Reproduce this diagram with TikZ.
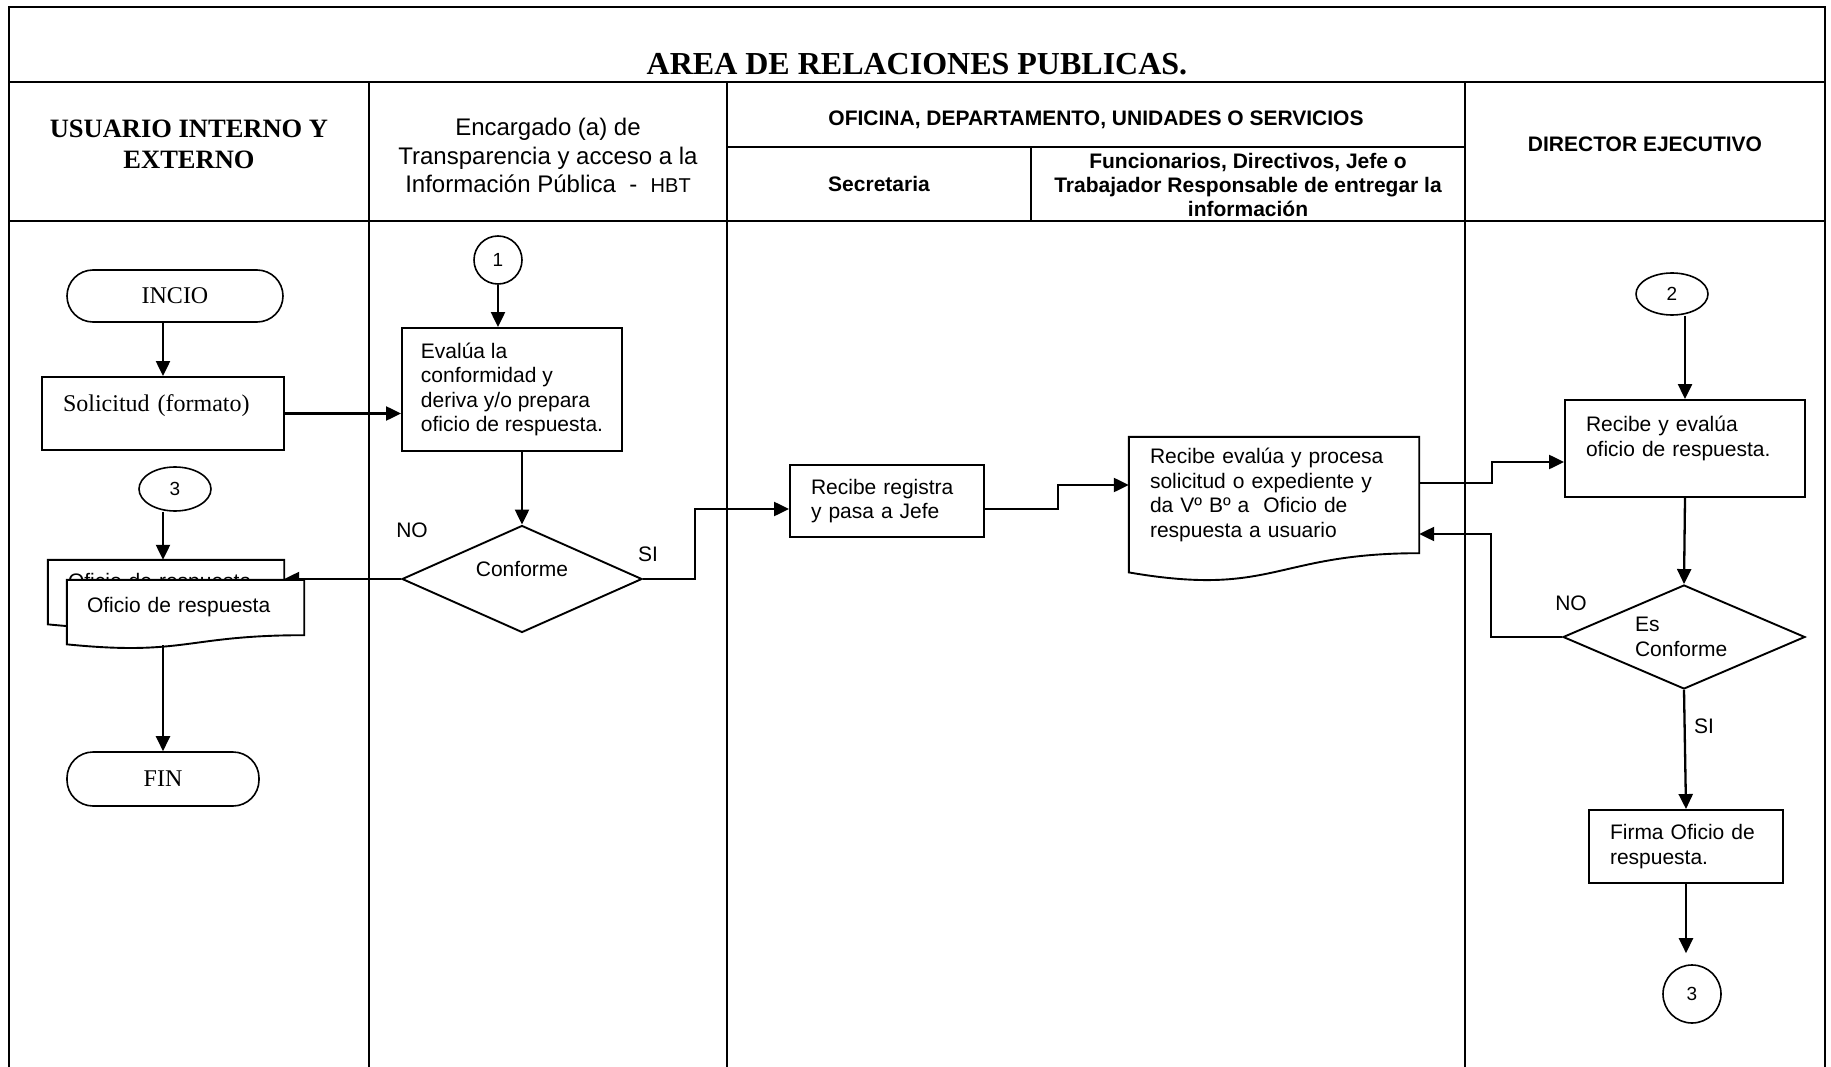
\documentclass[tikz,border=0pt]{standalone}
\usepackage{fontspec}
\setmainfont{Liberation Sans}
\newfontfamily\romanfont{Liberation Serif}
\usetikzlibrary{positioning,arrows.meta,shapes.geometric,calc}

\begin{document}
\begin{tikzpicture}[x=1pt, y=-1pt,
  lane/.style={line width=2.7pt},
  proc/.style={draw, line width=1.9pt, fill=white, align=left, inner sep=0pt,
               font=\fontsize{21}{24.5}\selectfont},
  term/.style={draw, line width=1.6pt, rounded corners=26pt, inner sep=0pt,
               font=\romanfont\fontsize{24}{28}\selectfont},
  conn/.style={draw, ellipse, line width=1.6pt, inner sep=0pt,
               font=\fontsize{19}{22}\selectfont},
  dec/.style={draw, diamond, aspect=2.3, line width=1.9pt, inner sep=0pt, align=left,
              font=\fontsize{21}{24.5}\selectfont},
  docu/.style={fill=white, align=left, inner sep=0pt,
               font=\fontsize{21}{24.5}\selectfont},
  wave/.style={line width=1.9pt},
  head/.style={align=center, font=\bfseries\fontsize{21}{24}\selectfont},
  lbl/.style={font=\fontsize{21}{24}\selectfont},
  arr/.style={-{Triangle[length=15pt,width=14pt]}, line width=2.3pt}
]
\useasboundingbox (0,0) rectangle (1831,1067);

\draw[lane] (9,1067) -- (9,7) -- (1825,7) -- (1825,1067);
\draw[lane] (9,82) -- (1825,82);
\draw[lane] (9,221) -- (1825,221);
\draw[lane] (727,147) -- (1465,147);
\draw[lane] (1031,147) -- (1031,221);
\draw[lane] (369,82) -- (369,1067);
\draw[lane] (727,82) -- (727,1067);
\draw[lane] (1465,82) -- (1465,1067);

\node[font=\romanfont\bfseries\fontsize{32}{36}\selectfont] (title) at (917,64)
  {AREA DE RELACIONES PUBLICAS.};
\node[align=center, font=\romanfont\bfseries\fontsize{26.5}{30.5}\selectfont] (husu) at (189,144.5)
  {USUARIO INTERNO Y\\EXTERNO};
\node[align=center, font=\fontsize{24}{28.6}\selectfont] (henc) at (548,155.5)
  {Encargado (a) de\\Transparencia y acceso a la\\Información Pública\ \ -\ \ {\fontsize{20}{24}\selectfont HBT}};
\node[head] (hofi) at (1096,120) {OFICINA, DEPARTAMENTO, UNIDADES O SERVICIOS};
\node[head] (hsec) at (879,184) {Secretaria};
\node[head] (hfun) at (1248,185)
  {Funcionarios, Directivos, Jefe o\\Trabajador Responsable de entregar la\\información};
\node[head] (hdir) at (1645,144.5) {DIRECTOR EJECUTIVO};

\node[term, minimum width=216, minimum height=52] (inicio) at (175,296) {INCIO};
\node[proc, minimum width=242, minimum height=73, text width=200, text height=18pt, text depth=23pt,
      font=\romanfont\fontsize{24}{28}\selectfont] (sol) at (163,413.5) {Solicitud (formato)};
\node[conn, minimum width=72, minimum height=44] (c3) at (175,489) {3};
\node[docu, minimum width=236, minimum height=55, text width=196, text height=15pt, text depth=14pt] (ofb)
  at (166,587.5) {Oficio de respuesta};
\draw[wave] (ofb.north west) -- (ofb.north east) -- (ofb.south east)
  .. controls (ofb.south) and ($(ofb.south)!-0.38!(ofb.north)$) ..
  ($(ofb.south west)!-0.165!(ofb.north west)$) -- cycle;
\node[term, minimum width=192, minimum height=54] (fin) at (163,779) {FIN};

\node[conn, circle, minimum size=48] (c1) at (498,260) {1};
\node[proc, minimum width=220, minimum height=123] (eval) at (512,389.5)
  {Evalúa la\\conformidad y\\deriva y/o prepara\\oficio de respuesta.};
\node[dec, minimum width=240, minimum height=107, text height=15pt, text depth=21pt] (conf)
  at (522,579) {Conforme};
\node[lbl] (no1) at (412,530) {NO};
\node[lbl] (si1) at (648,554) {SI};

\node[proc, minimum width=194, minimum height=72, text width=152] (rr) at (887,501)
  {Recibe registra\\y pasa a Jefe};

\node[docu, minimum width=290, minimum height=116, text width=248] (doc) at (1274,495)
  {Recibe evalúa y procesa\\solicitud o expediente y\\da Vº Bº a\ \ Oficio de\\respuesta a usuario};
\draw[wave] (doc.north west) -- (doc.north east) -- (doc.south east)
  .. controls (doc.south) and ($(doc.south)!-0.38!(doc.north)$) ..
  ($(doc.south west)!-0.165!(doc.north west)$) -- cycle;

\node[conn, minimum width=72, minimum height=42] (c2) at (1672,294) {2};
\node[proc, minimum width=240, minimum height=97, text width=198] (rye) at (1685,448.5)
  {Recibe y evalúa\\oficio de respuesta.\\\mbox{}};
\node[dec, minimum width=242, minimum height=104, text width=98] (esc) at (1684,637)
  {Es\\Conforme};
\node[lbl] (no2) at (1571,603) {NO};
\node[lbl] (si2) at (1704,726) {SI};
\node[proc, minimum width=194, minimum height=73, text width=152] (fir) at (1686,846.5)
  {Firma Oficio de\\respuesta.};
\node[conn, circle, minimum size=58] (c3b) at (1692,994) {3};

\draw[arr] (sol.north |- inicio.south) -- (sol.north);
\draw[arr] (sol.east) -- (eval.west |- sol.east);
\draw[arr] (c1.south) -- (c1.south |- eval.north);
\draw[arr] (conf.north |- eval.south) -- (conf.north);
\draw[arr] (conf.east) -- ++(52,0) |- ([yshift=-8pt]rr.west);
\draw[arr] ([yshift=-8pt]rr.east) -- ++(73,0) |- ([yshift=10pt]doc.west);
\draw[arr] ([yshift=12pt]doc.east) -- ++(73,0) |- ([yshift=-13.5pt]rye.west);
\draw[arr] (rye.north |- c2.south) -- (rye.north);
\draw[arr] (rye.south) -- (esc.north);
\draw[arr] (esc.west) -- ++(-71,0) |- ([yshift=-39pt]doc.east);
\draw[arr] (esc.south) -- (fir.north);
\draw[arr, shorten >=11pt] (fir.south) -- (fir.south |- c3b.north);
\draw[arr] (sol.south |- c3.south) -- (sol.south |- ofb.north);
\draw[arr] (conf.west) -- (ofb.east |- conf.west);

\node[docu, minimum width=237, minimum height=55, text width=197] (ofr) at (185.5,607.5) {Oficio de respuesta};
\draw[wave] (ofr.north west) -- (ofr.north east) -- (ofr.south east)
  .. controls (ofr.south) and ($(ofr.south)!-0.38!(ofr.north)$) ..
  ($(ofr.south west)!-0.165!(ofr.north west)$) -- cycle;
\draw[arr] ($(sol.south |- ofr.south)+(0,10)$) -- (sol.south |- fin.north);
\end{tikzpicture}
\end{document}
